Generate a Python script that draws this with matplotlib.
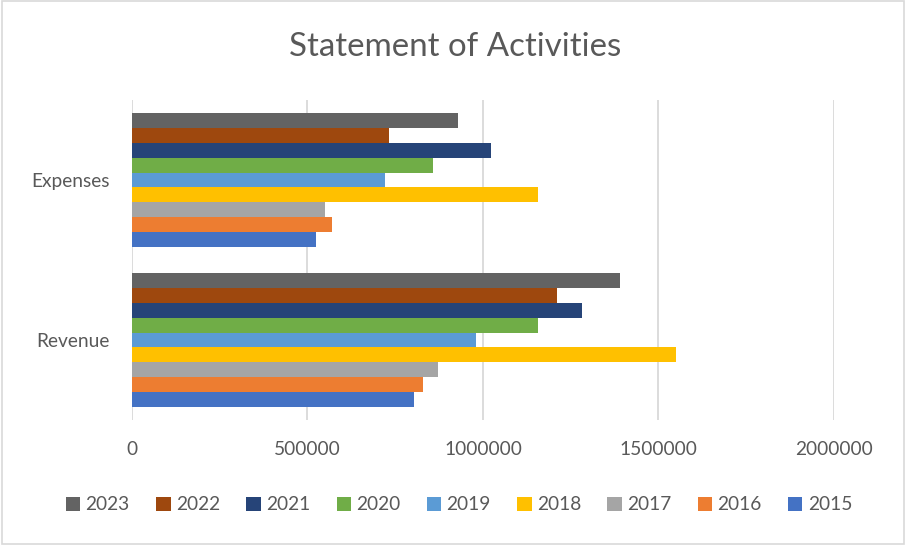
import matplotlib.pyplot as plt
import numpy as np
from matplotlib.patches import Rectangle

categories = ["Revenue", "Expenses"]
years = ["2015", "2016", "2017", "2018", "2019", "2020", "2021", "2022", "2023"]
revenue = [803000, 828000, 871000, 1551000, 981000, 1156000, 1281000, 1211000, 1391000]
expenses = [525000, 571000, 550000, 1157000, 722000, 857000, 1022000, 733000, 928000]
colors = ["#4472C4", "#ED7D31", "#A5A5A5", "#FFC000", "#5B9BD5",
          "#70AD47", "#264478", "#9E480E", "#636363"]

text_color = "#595959"
plt.rcParams["font.family"] = ["Lato", "DejaVu Sans"]

fig = plt.figure(figsize=(9.06, 5.45), dpi=100)
ax = fig.add_axes([132 / 906, 1 - 420 / 545, (834 - 132) / 906, 320 / 545])

n = len(years)
h = (1 / 1.2) / n
ypos = np.arange(len(categories))
for i, yr in enumerate(years):
    vals = [revenue[i], expenses[i]]
    ax.barh(ypos + (i - (n - 1) / 2) * h, vals, height=h, color=colors[i],
            label=yr, zorder=3)

ax.set_ylim(-0.5, 1.5)
ax.set_xlim(0, 2000000)
ax.set_xticks([0, 500000, 1000000, 1500000, 2000000])
ax.set_xticklabels(["0", "500000", "1000000", "1500000", "2000000"])
ax.set_yticks(ypos)
ax.set_yticklabels(categories)
ax.tick_params(length=0, labelsize=13.8, labelcolor=text_color)
ax.tick_params(axis="x", pad=15)
ax.tick_params(axis="y", pad=16)
ax.grid(axis="x", color="#D9D9D9", linewidth=1.3, zorder=0)
for s in ax.spines.values():
    s.set_visible(False)

fig.text(455 / 906, 1 - 56 / 545, "Statement of Activities", ha="center", va="baseline",
         fontsize=23.8, color=text_color)

handles, labels = ax.get_legend_handles_labels()
fig.legend(handles[::-1], labels[::-1], loc="center", bbox_to_anchor=(459 / 906, 1 - 505 / 545),
           ncol=n, frameon=False, fontsize=13.8, labelcolor=text_color,
           handlelength=0.75, handleheight=0.7, handletextpad=0.27, columnspacing=1.38,
           borderpad=0, borderaxespad=0)

fig.patches.append(Rectangle((0.002, 0.002), 0.996, 0.996, transform=fig.transFigure,
                             fill=False, edgecolor="#D9D9D9", linewidth=1.2))

fig.savefig("out.png", dpi=100, facecolor="white")
